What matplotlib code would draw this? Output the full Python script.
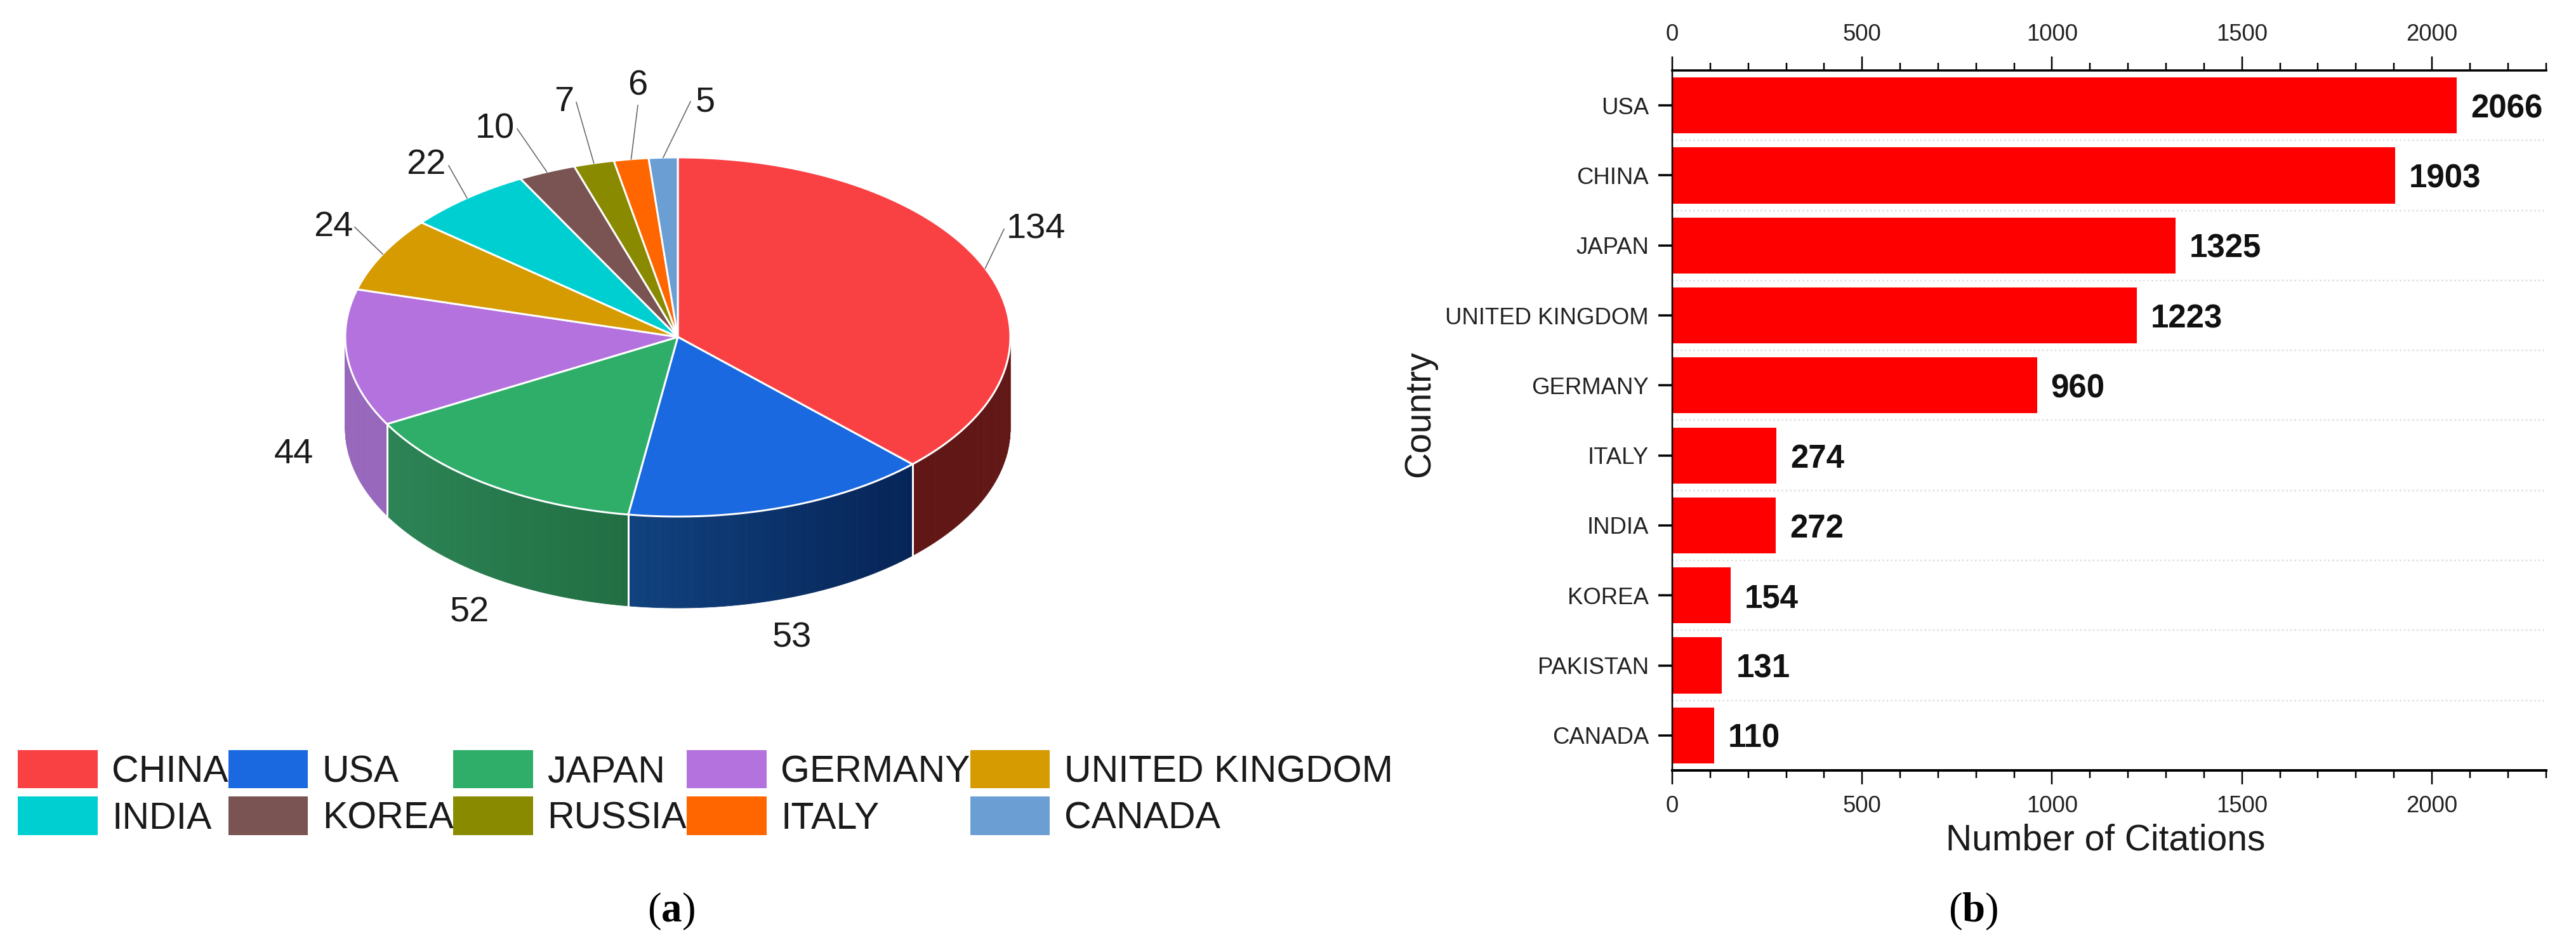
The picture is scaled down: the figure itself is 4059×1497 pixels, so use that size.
import matplotlib
matplotlib.use("Agg")
import matplotlib.pyplot as plt
import numpy as np
from matplotlib.colors import to_rgb
from matplotlib.patches import Patch

plt.rcParams["font.family"] = ["Liberation Sans", "DejaVu Sans"]
plt.rcParams["mathtext.fontset"] = "custom"
plt.rcParams["mathtext.rm"] = "Liberation Serif"
plt.rcParams["mathtext.bf"] = "Liberation Serif:bold"

W, H = 4059, 1497
DPI = 100
PX = 72 / DPI  # one image pixel in points

# panel a
PIE_COUNTRIES = ["CHINA", "USA", "JAPAN", "GERMANY", "UNITED KINGDOM",
                 "INDIA", "KOREA", "RUSSIA", "ITALY", "CANADA"]
PIE_VALUES = [134, 53, 52, 44, 24, 22, 10, 7, 6, 5]
PIE_COLORS = ["#f94144", "#1a69e0", "#2fae6a", "#b372dd", "#d59b00",
              "#00cfd1", "#7a5353", "#8a8a00", "#ff6600", "#6b9fd4"]
# wall colour at the left and right end of each visible slice
WALL_COLORS = {0: ("#611715", "#611715"),
               1: ("#11427f", "#062457"),
               2: ("#2c8455", "#216e43"),
               3: ("#9767bc", "#9767bc")}

# panel b
BAR_COUNTRIES = ["USA", "CHINA", "JAPAN", "UNITED KINGDOM", "GERMANY",
                 "ITALY", "INDIA", "KOREA", "PAKISTAN", "CANADA"]
BAR_VALUES = [2066, 1903, 1325, 1223, 960, 274, 272, 154, 131, 110]

# pie geometry in image pixels
CX, CY = 1068, 531
RX, RY = 524, 283
DEPTH = 144

# label centre and leader elbow in image pixels, same order as PIE_VALUES
LABEL_POS = [(1632, 361), (1248, 1005), (740, 965), (463, 716), (525, 358),
             (671, 260), (780, 203), (889, 161), (1005, 136), (1111, 162)]
LEADER_END = [(1582, 361), None, None, None, (559, 358),
              (707, 261), (815, 203), (908, 161), (1005, 166), (1088, 160)]


def ellipse(angles, dy=0):
    rad = np.radians(angles)
    return CX + RX * np.cos(rad), CY - RY * np.sin(rad) + dy


def draw_pie(ax):
    values = np.array(PIE_VALUES, dtype=float)
    edges = 90 - np.concatenate([[0], np.cumsum(values)]) / values.sum() * 360

    # side wall, only the front half of the disc shows
    for i, (left, right) in WALL_COLORS.items():
        a0 = max(edges[i + 1], -180)
        a1 = min(edges[i], 0)
        steps = np.linspace(a0, a1, 40)
        xs, _ = ellipse(steps)
        xmin, xmax = xs.min(), xs.max()
        c_left, c_right = np.array(to_rgb(left)), np.array(to_rgb(right))
        for s0, s1 in zip(steps[:-1], steps[1:]):
            t = ((ellipse(s0)[0] + ellipse(s1)[0]) / 2 - xmin) / (xmax - xmin)
            col = c_left + (c_right - c_left) * t
            seg = np.linspace(s0, s1, 4)
            x, y = ellipse(seg)
            ax.fill(np.r_[x, x[::-1]], np.r_[y, (y + DEPTH)[::-1]],
                    color=col, lw=0.6, zorder=1)

    for edge in edges[1:4]:
        x, y = ellipse(edge)
        ax.plot([x, x], [y, y + DEPTH], color="white", lw=3 * PX, zorder=2)

    for i, color in enumerate(PIE_COLORS):
        seg = np.linspace(edges[i], edges[i + 1], 200)
        x, y = ellipse(seg)
        ax.fill(np.r_[CX, x], np.r_[CY, y], facecolor=color, edgecolor="white",
                lw=3 * PX, joinstyle="round", zorder=3)

    mids = (edges[:-1] + edges[1:]) / 2
    for value, mid, pos, end in zip(PIE_VALUES, mids, LABEL_POS, LEADER_END):
        ax.text(pos[0], pos[1], str(value), fontsize=56 * PX,
                ha="center", va="center", color="#1a1a1a")
        if end is not None:
            sx, sy = ellipse(mid)
            ax.plot([sx, end[0]], [sy, end[1]], color="#666666",
                    lw=1.6 * PX, zorder=4)


fig = plt.figure(figsize=(W / DPI, H / DPI), dpi=DPI)

ax_pie = fig.add_axes([0, 0, 1, 1])
ax_pie.set_xlim(0, W)
ax_pie.set_ylim(H, 0)
ax_pie.axis("off")
draw_pie(ax_pie)

handles = [Patch(facecolor=c, edgecolor="none") for c in PIE_COLORS]
# legend fills row by row in the reference, matplotlib fills by column
order = [0, 5, 1, 6, 2, 7, 3, 8, 4, 9]
ax_pie.legend([handles[i] for i in order], [PIE_COUNTRIES[i] for i in order],
              ncol=5, loc="upper left",
              bbox_to_anchor=(28 / W, 1 - 1182 / H),
              bbox_transform=fig.transFigure, frameon=False, borderpad=0,
              borderaxespad=0, columnspacing=0, handletextpad=0.38,
              handlelength=2.13, handleheight=1.2, labelspacing=0.19,
              fontsize=59 * PX, labelcolor="#1a1a1a")

ax_pie.text(1057, 1436, r"($\mathbf{a}$)", fontsize=65 * PX, ha="center",
            va="center", family="Liberation Serif")
ax_pie.text(3109, 1436, r"($\mathbf{b}$)", fontsize=65 * PX, ha="center",
            va="center", family="Liberation Serif")

# bar chart
left, right, top, bottom = 2635, 4011.5, 111, 1214
ax = fig.add_axes([left / W, 1 - bottom / H, (right - left) / W, (bottom - top) / H])
ypos = np.arange(len(BAR_COUNTRIES))
ax.barh(ypos, BAR_VALUES, height=0.8, color="#ff0000", zorder=2)
ax.set_xlim(0, 2300)
ax.set_ylim(len(ypos) - 0.5, -0.5)
ax.patch.set_alpha(0)

ax.set_yticks(ypos, BAR_COUNTRIES)
ax.set_yticks(ypos[:-1] + 0.5, minor=True)
ax.set_xticks(np.arange(0, 2001, 500))
ax.set_xticks(np.arange(0, 2301, 100), minor=True)
ax.grid(True, which="minor", axis="y", color="#dddddd", linestyle=":",
        linewidth=2.5 * PX, zorder=0)

ax.tick_params(axis="x", which="major", top=True, bottom=True, labeltop=True,
               labelbottom=True, length=22 * PX, width=2.5 * PX,
               labelsize=36.5 * PX, pad=17 * PX, labelcolor="#222222")
ax.tick_params(axis="x", which="minor", top=True, bottom=True,
               length=12 * PX, width=2.5 * PX)
ax.tick_params(axis="y", which="major", length=22 * PX, width=3.5 * PX,
               labelsize=36.5 * PX, pad=15 * PX, labelcolor="#222222")
ax.tick_params(axis="y", which="minor", length=0)

ax.spines["right"].set_visible(False)
ax.spines["left"].set_linewidth(2.5 * PX)
ax.spines["top"].set_linewidth(3.5 * PX)
ax.spines["bottom"].set_linewidth(4 * PX)

for y, value in zip(ypos, BAR_VALUES):
    ax.annotate(str(value), (value, y), xytext=(22 * PX, 0),
                textcoords="offset points", ha="left", va="center_baseline",
                fontsize=51 * PX, fontweight="bold", color="#111111")

ax.set_xlabel("Number of Citations", fontsize=57 * PX, color="#1a1a1a")
ax.xaxis.set_label_coords((3318 - left) / (right - left), 1 - (1324 - top) / (bottom - top))
ax.xaxis.label.set_verticalalignment("center")
ax.set_ylabel("Country", fontsize=57 * PX, color="#1a1a1a")
ax.yaxis.set_label_coords((2237 - left) / (right - left), 1 - (652 - top) / (bottom - top))
ax.yaxis.label.set_verticalalignment("center")

fig.savefig("out.png", dpi=DPI)
